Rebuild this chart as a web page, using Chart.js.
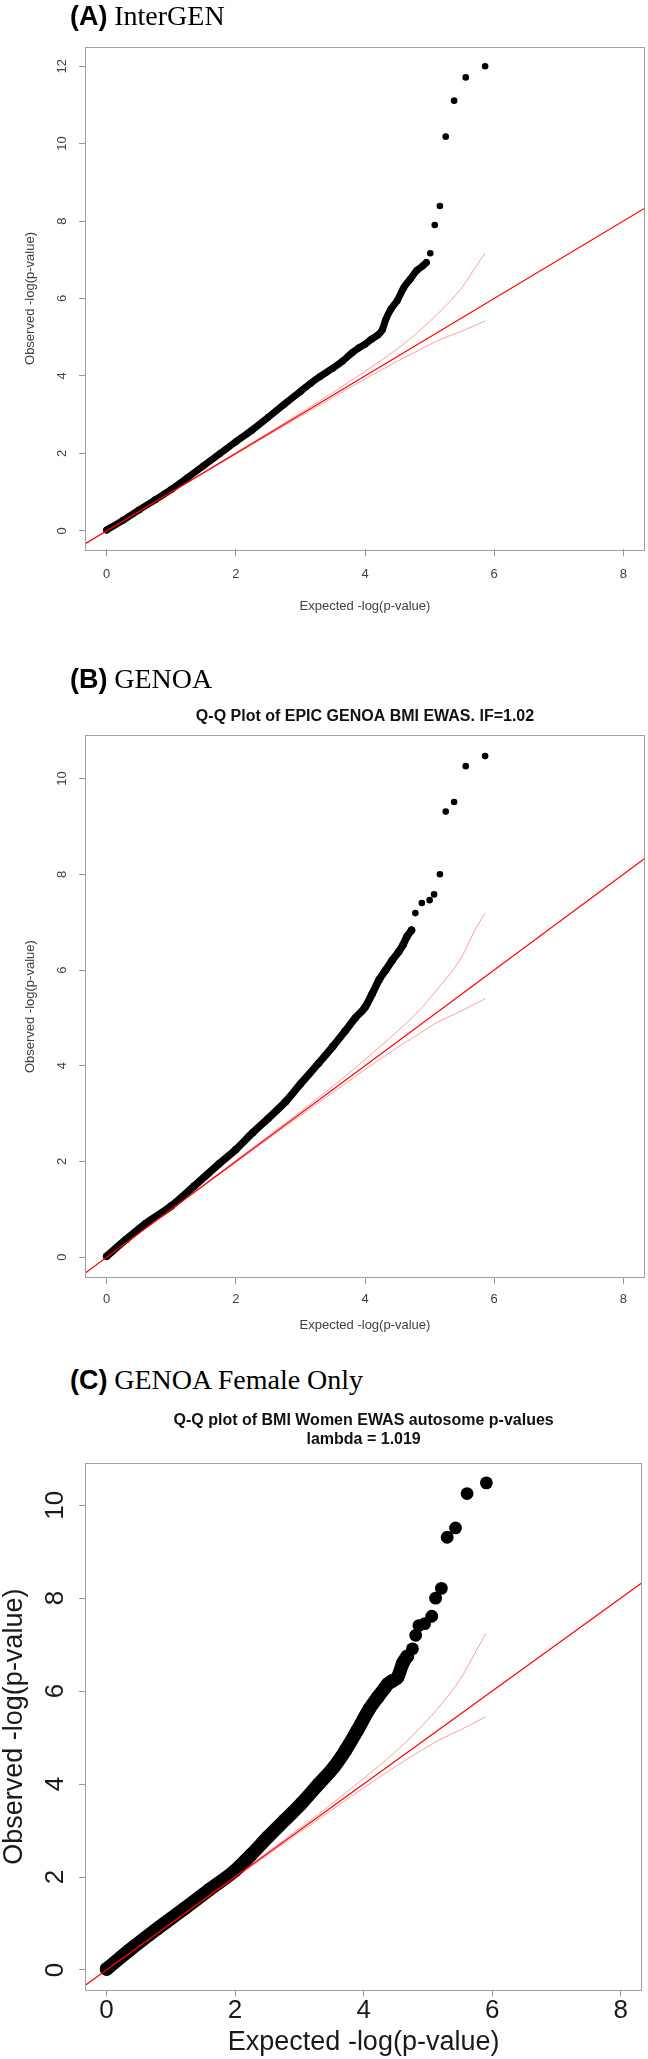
<!DOCTYPE html>
<html>
<head>
<meta charset="utf-8">
<script src="https://cdn.jsdelivr.net/npm/chart.js@4.4.1/dist/chart.umd.min.js"></script>
<style>
  body { margin: 0; background: #fff; width: 648px; height: 2059px; position: relative; overflow: hidden; }
  canvas { position: absolute; left: 0; }
  .head { position: absolute; left: 70px; font-size: 27px; line-height: 27px; white-space: nowrap; color: #000; }
  .head b { font-family: "Liberation Sans", Arial, sans-serif; }
  .head span { font-family: "Liberation Serif", "Times New Roman", serif; font-size: 28px; }
</style>
</head>
<body>

<canvas id="qqA" width="648" height="590" style="top:30px"></canvas>
<canvas id="qqB" width="648" height="650" style="top:690px"></canvas>
<canvas id="qqC" width="648" height="659" style="top:1400px"></canvas>

<div class="head" style="top:2px"><b>(A)</b> <span>InterGEN</span></div>
<div class="head" style="top:665px"><b>(B)</b> <span>GENOA</span></div>
<div class="head" style="top:1366px"><b>(C)</b> <span>GENOA Female Only</span></div>

<script>
// tick labels
var xTicks = [0, 2, 4, 6, 8];
var yTicksA = [0, 2, 4, 6, 8, 10, 12];
var yTicksBC = [0, 2, 4, 6, 8, 10];

// axis ranges (R adds 4% each side)
var xRange = [-0.32, 8.32];
var yRangeA = [-0.48, 12.48];
var yRangeBC = [-0.42, 10.89];

// y = x reference line
var diagX = [-1, 9];
var diagY = [-1, 9];

// (A) InterGEN - dense part of the curve
var curveAx = [0, 0.25, 0.5, 0.75, 1.0, 1.25, 1.5, 1.75, 2.0, 2.25, 2.5, 2.75, 3.0, 3.15, 3.3, 3.5, 3.65, 3.8, 3.9, 4.0, 4.1, 4.2, 4.27, 4.32, 4.4, 4.5, 4.6, 4.7, 4.8, 4.9, 4.95];
var curveAy = [0.02, 0.27, 0.54, 0.8, 1.07, 1.37, 1.68, 1.99, 2.3, 2.6, 2.93, 3.27, 3.6, 3.8, 3.98, 4.2, 4.38, 4.6, 4.72, 4.82, 4.95, 5.06, 5.2, 5.45, 5.72, 5.95, 6.28, 6.5, 6.72, 6.85, 6.93];
// (A) separate top points
var topAx = [5.01, 5.08, 5.16, 5.25, 5.38, 5.56, 5.86];
var topAy = [7.17, 7.90, 8.39, 10.18, 11.11, 11.71, 12.0];
// (A) confidence band
var bandAx = [0, 1, 2, 3, 3.5, 4, 4.5, 4.77, 5.11, 5.5, 5.7, 5.86];
var bandAup = [0, 1.0, 2.02, 3.04, 3.57, 4.12, 4.7, 5.06, 5.58, 6.28, 6.78, 7.17];
var bandAlo = [0, 1.0, 1.98, 2.96, 3.44, 3.92, 4.38, 4.61, 4.9, 5.16, 5.3, 5.42];

// (B) GENOA
var curveBx = [0, 0.3, 0.6, 1.0, 1.35, 1.74, 2.0, 2.26, 2.5, 2.77, 3.0, 3.28, 3.5, 3.69, 3.85, 4.0, 4.11, 4.22, 4.32, 4.42, 4.52, 4.59, 4.65, 4.72];
var curveBy = [0.02, 0.37, 0.7, 1.07, 1.48, 1.95, 2.25, 2.6, 2.9, 3.25, 3.62, 4.05, 4.4, 4.72, 5.0, 5.22, 5.5, 5.8, 6.0, 6.2, 6.38, 6.53, 6.7, 6.83];
var topBx = [4.78, 4.88, 5.0, 5.07, 5.16, 5.25, 5.38, 5.56, 5.86];
var topBy = [7.19, 7.40, 7.46, 7.58, 8.0, 9.31, 9.51, 10.26, 10.47];
var bandBx = [0, 1, 2, 3, 3.5, 4, 4.5, 4.77, 5.11, 5.5, 5.7, 5.86];
var bandBup = [0, 1.0, 2.02, 3.04, 3.57, 4.13, 4.72, 5.06, 5.58, 6.28, 6.83, 7.19];
var bandBlo = [0, 1.0, 1.98, 2.96, 3.44, 3.92, 4.38, 4.61, 4.9, 5.15, 5.29, 5.4];

// (C) GENOA Female Only
var curveCx = [0, 0.35, 0.8, 1.22, 1.6, 2.0, 2.25, 2.51, 2.77, 3.03, 3.3, 3.54, 3.72, 3.9, 4.09, 4.22, 4.32, 4.38, 4.45, 4.53, 4.61, 4.68];
var curveCy = [0.02, 0.42, 0.9, 1.33, 1.73, 2.14, 2.48, 2.86, 3.22, 3.58, 4.0, 4.37, 4.73, 5.15, 5.62, 5.87, 6.05, 6.16, 6.22, 6.3, 6.6, 6.75];
var topCx = [4.76, 4.81, 4.86, 4.95, 5.06, 5.12, 5.21, 5.30, 5.43, 5.61, 5.91];
var topCy = [6.91, 7.2, 7.41, 7.45, 7.61, 8.0, 8.21, 9.31, 9.51, 10.25, 10.48];
var bandCx = [0, 1, 2, 3, 3.5, 4, 4.5, 4.8, 5.15, 5.5, 5.75, 5.9];
var bandCup = [0, 1.0, 2.02, 3.04, 3.57, 4.12, 4.7, 5.1, 5.62, 6.25, 6.86, 7.23];
var bandClo = [0, 1.0, 1.98, 2.96, 3.44, 3.92, 4.38, 4.64, 4.93, 5.16, 5.34, 5.45];

Chart.defaults.font.family = "'Liberation Sans', Arial, sans-serif";

function pairs(xs, ys) {
  return xs.map(function (x, i) { return {x: x, y: ys[i]}; });
}

// box round the plot region, like R's box()
var boxPlugin = {
  id: 'box',
  beforeDatasetsDraw: function (chart) {
    var a = chart.chartArea, ctx = chart.ctx;
    ctx.save();
    ctx.strokeStyle = '#a0a0a0';
    ctx.lineWidth = 1;
    ctx.strokeRect(Math.round(a.left) - 0.5, Math.round(a.top) - 0.5,
                   Math.round(a.right - a.left) + 1, Math.round(a.bottom - a.top) + 1);
    ctx.restore();
  }
};

function qqChart(id, d, s) {
  return new Chart(document.getElementById(id), {
    type: 'scatter',
    data: {
      datasets: [
        {data: pairs(diagX, diagY), showLine: true, borderColor: '#ff0000', borderWidth: 1.2, pointRadius: 0},
        {data: pairs(d.bandX, d.bandUp), showLine: true, borderColor: 'rgba(255,0,0,0.38)', borderWidth: 1,
         pointRadius: 0, cubicInterpolationMode: 'monotone'},
        {data: pairs(d.bandX, d.bandLo), showLine: true, borderColor: 'rgba(255,0,0,0.38)', borderWidth: 1,
         pointRadius: 0, cubicInterpolationMode: 'monotone'},
        {data: pairs(d.curveX, d.curveY), showLine: true, borderColor: '#000', borderWidth: s.lw,
         borderCapStyle: 'round', borderJoinStyle: 'round', cubicInterpolationMode: 'monotone',
         pointRadius: s.lw / 2, pointBackgroundColor: '#000', pointBorderWidth: 0},
        {data: pairs(d.topX, d.topY), pointRadius: s.r, pointBackgroundColor: '#000', pointBorderWidth: 0}
      ]
    },
    options: {
      responsive: false,
      animation: false,
      events: [],
      layout: {padding: {top: s.padTop, left: 0, right: s.padRight, bottom: 0}},
      plugins: {
        legend: {display: false},
        tooltip: {enabled: false},
        title: {
          display: !!d.title,
          text: d.title,
          fullSize: false,
          color: '#111',
          font: {size: 16, weight: 'bold', lineHeight: 1.2},
          padding: {top: s.titleTop, bottom: s.titleBottom}
        }
      },
      scales: {
        x: {
          type: 'linear', min: xRange[0], max: xRange[1],
          afterBuildTicks: function (ax) { ax.ticks = xTicks.map(function (v) { return {value: v}; }); },
          afterFit: function (ax) { ax.height = s.xh; },
          border: {display: false},
          grid: {drawOnChartArea: false, drawTicks: true, tickLength: 7, tickColor: '#999'},
          ticks: {autoSkip: false, maxRotation: 0, padding: s.xtp, color: s.tc,
                  font: {size: s.tf, lineHeight: s.tlh}},
          title: {display: true, text: 'Expected -log(p-value)', color: s.tc,
                  font: {size: s.af, lineHeight: s.alh}, padding: {top: 0, bottom: s.xtb}}
        },
        y: {
          type: 'linear', min: d.yRange[0], max: d.yRange[1],
          afterBuildTicks: function (ax) { ax.ticks = d.yTicks.map(function (v) { return {value: v}; }); },
          afterFit: function (ax) { ax.width = 86; },
          border: {display: false},
          grid: {drawOnChartArea: false, drawTicks: true, tickLength: 7, tickColor: '#999'},
          ticks: {autoSkip: false, minRotation: 90, maxRotation: 90, crossAlign: 'center',
                  padding: s.ytp, color: s.tc, font: {size: s.tf, lineHeight: s.tlh}},
          title: {display: true, text: 'Observed -log(p-value)', color: s.tc,
                  font: {size: s.af, lineHeight: s.alh}, padding: {top: s.ytt, bottom: 0}}
        }
      }
    },
    plugins: [boxPlugin]
  });
}

qqChart('qqA',
  {curveX: curveAx, curveY: curveAy, topX: topAx, topY: topAy,
   bandX: bandAx, bandUp: bandAup, bandLo: bandAlo, yRange: yRangeA, yTicks: yTicksA, title: ''},
  {lw: 7, r: 3.3, padTop: 8, padRight: 0.4, titleTop: 0, titleBottom: 0,
   xh: 70.6, tf: 13, tlh: 1.2, af: 13, alh: 1.2, tc: '#404040', xtp: 9.8, xtb: 6.2, ytp: 9.8, ytt: 22.2});

qqChart('qqB',
  {curveX: curveBx, curveY: curveBy, topX: topBx, topY: topBy,
   bandX: bandBx, bandUp: bandBup, bandLo: bandBlo, yRange: yRangeBC, yTicks: yTicksBC,
   title: 'Q-Q Plot of EPIC GENOA BMI EWAS. IF=1.02'},
  {lw: 7.5, r: 3.3, padTop: 0, padRight: 0.4, titleTop: 17.4, titleBottom: 9.4,
   xh: 62.7, tf: 13, tlh: 1.2, af: 13, alh: 1.2, tc: '#404040', xtp: 7.6, xtb: 6.6, ytp: 9.8, ytt: 22.2});

qqChart('qqC',
  {curveX: curveCx, curveY: curveCy, topX: topCx, topY: topCy,
   bandX: bandCx, bandUp: bandCup, bandLo: bandClo, yRange: yRangeBC, yTicks: yTicksBC,
   title: ['Q-Q plot of BMI Women EWAS autosome p-values', 'lambda = 1.019']},
  {lw: 13.5, r: 6.4, padTop: 0, padRight: 2.8, titleTop: 10.8, titleBottom: 14.6,
   xh: 69.5, tf: 26, tlh: 1, af: 27, alh: 1, tc: '#1a1a1a', xtp: 1.5, xtb: 3.2, ytp: 8.5, ytt: 1});
</script>
</body>
</html>
